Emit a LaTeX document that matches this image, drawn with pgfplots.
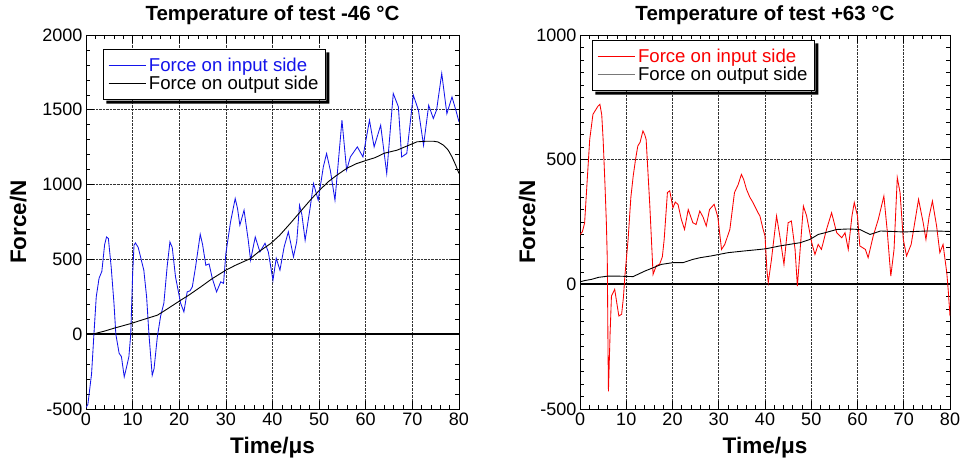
\documentclass[border=0pt]{standalone}
\usepackage{fontspec}
\setmainfont{Liberation Sans}
\newfontfamily\serifit{Liberation Serif}
\usepackage{pgfplots}
\pgfplotsset{compat=1.18}
\definecolor{inblue}{RGB}{20,20,235}
\definecolor{inred}{RGB}{250,0,0}
\definecolor{outgray}{RGB}{120,120,120}

\pgfplotsset{
  every axis title shift=0pt,
  myaxis/.style={
    scale only axis,
    height=374bp,
    xmin=0, xmax=80,
    xtick={0,10,...,80},
    minor x tick num=4,
    grid=major,
    major grid style={densely dotted, black!80, line width=0.7bp},
    tick align=inside,
    major tick length=8bp, minor tick length=4bp,
    tick style={black, line width=0.6bp},
    axis line style={line width=0.8bp},
    /pgf/number format/assume math mode=true,
    /pgf/number format/1000 sep={},
    ticklabel style={font=\fontsize{18bp}{20bp}\selectfont},
    xlabel={Time/μs}, ylabel={Force/N},
    label style={font=\bfseries\fontsize{22.5bp}{24bp}\selectfont},
    title style={font=\bfseries\fontsize{20.5bp}{22bp}\selectfont, at={(axis description cs:0.5,1.053)}, anchor=center},
    xlabel style={at={(axis description cs:0.5,-0.102)}, anchor=center},
    legend cell align=left,
    legend image code/.code={\draw[##1] (0bp,0bp) -- (37bp,0bp);},
    legend style={font=\fontsize{18.6bp}{20bp}\selectfont, draw=black, line width=0.8bp, fill=white,
      inner xsep=5bp, inner ysep=6.5bp, nodes={inner sep=1.9bp}, column sep=1bp, anchor=north west},
  }
}

\begin{document}
\begin{tikzpicture}
\useasboundingbox (0,0) rectangle (966bp,468bp);

% ---------------- (a) ----------------
\begin{axis}[myaxis, width=373bp, at={(86bp,59bp)}, anchor=south west,
  ymin=-500, ymax=2000, ytick={-500,0,...,2000}, minor y tick num=4,
  ylabel style={at={(axis description cs:-0.182,0.5)}, anchor=center},
  title={Temperature of test -46 °C},
  legend style={at={(0.045,0.963)}, name=legA}]
\addlegendimage{draw=inblue, line width=0.9bp}
\addlegendentry{\textcolor{inblue}{Force on input side}}
\addlegendimage{draw=black, line width=0.9bp}
\addlegendentry{Force on output side}
\addplot[forget plot, draw=black, line width=1.8bp] coordinates {(0,0) (80,0)};
\addplot[forget plot, draw=inblue, line width=0.85bp] coordinates {
(0,-490) (0.4,-470) (1.2,-263) (1.7,0) (2.2,250) (2.8,374) (3.4,420) (4.0,600) (4.4,650) (4.8,640) (5.4,450) (6.0,207) (6.4,0) (7.1,-127) (7.6,-150) (8.2,-285) (8.7,-220) (9.2,-150) (9.6,0) (10.0,400) (10.3,595) (10.6,610) (11.2,580) (12.4,428) (13.0,250) (13.5,0) (14.2,-275) (14.6,-230) (15.3,-18) (16.0,120) (16.7,207) (17.4,450) (18.0,617) (18.5,580) (19.2,383) (20.3,207) (21.0,149) (21.7,283) (22.3,290) (22.8,316) (23.5,450) (24.5,668) (25.0,600) (25.7,461) (26.4,470) (27.1,372) (28.0,283) (28.5,320) (28.9,350) (29.5,340) (30.0,540) (31.0,750) (32.0,907) (32.5,840) (33.0,729) (33.9,829) (34.8,628) (35.3,495) (36.3,650) (37.3,550) (38.4,608) (39.1,550) (40.1,361) (40.8,508) (41.6,428) (42.5,584) (43.4,684) (43.9,610) (44.5,517) (45.2,620) (45.8,862) (46.3,800) (47.0,628) (48.1,851) (48.8,1007) (49.8,896) (50.9,1118) (51.6,1208) (52.4,1096) (53.4,896) (54.9,1430) (55.9,1096) (56.7,1185) (58.2,1252) (59.4,1185) (60.8,1430) (61.8,1252) (63.2,1397) (64.5,1074) (65.9,1609) (67.0,1520) (67.7,1185) (68.8,1208) (70.2,1598) (71.3,1497) (72.4,1263) (73.5,1530) (74.5,1442) (75.2,1500) (76.3,1743) (77.4,1474) (78.5,1586) (79.3,1500) (80,1420)
};
\addplot[forget plot, draw=black, line width=0.9bp] coordinates {
(0,0) (1,0) (2,5) (3.9,20) (6,40) (9.6,71) (12,95) (15.3,127) (17,160) (20.3,227) (22,260) (24.6,316) (27,370) (30,428) (32,460) (35.3,506) (37,550) (39.6,606) (41.5,660) (43.8,740) (46,820) (48.1,896) (50,960) (52,1020) (53.8,1063) (56,1110) (58,1140) (60.2,1163) (62,1180) (64,1210) (66.7,1230) (69,1260) (71,1286) (73,1290) (74.5,1290) (75.5,1285) (76.7,1263) (77.7,1230) (78.5,1185) (79.3,1130) (80,1074)
};
\node[font=\serifit\itshape\fontsize{22bp}{24bp}\selectfont] at (axis description cs:0.968,-0.102) {(a)};
\end{axis}
\fill[black] ([shift={(0.4bp,-3.5bp)}]legA.north east) -- ([shift={(3.5bp,-3.5bp)}]legA.north east)
  -- ([shift={(3.5bp,-3.5bp)}]legA.south east) -- ([shift={(3.5bp,-3.5bp)}]legA.south west)
  -- ([shift={(3.5bp,-0.4bp)}]legA.south west) -- ([shift={(0.4bp,-0.4bp)}]legA.south east) -- cycle;

% ---------------- (b) ----------------
\begin{axis}[myaxis, width=370bp, at={(580bp,59bp)}, anchor=south west,
  ymin=-500, ymax=1000, ytick={-500,0,500,1000}, minor y tick num=9,
  ylabel style={at={(axis description cs:-0.143,0.5)}, anchor=center},
  title={Temperature of test +63 °C},
  legend style={at={(0.032,0.987)}, name=legB}]
\addlegendimage{draw=inred, line width=0.9bp}
\addlegendentry{\textcolor{inred}{Force on input side}}
\addlegendimage{draw=outgray, line width=0.9bp}
\addlegendentry{Force on output side}
\addplot[forget plot, draw=black, line width=1.8bp] coordinates {(0,0) (80,0)};
\addplot[forget plot, draw=inred, line width=0.85bp] coordinates {
(0,200) (0.5,210) (1,247) (1.5,400) (2.1,581) (2.8,682) (3.4,700) (3.9,715) (4.3,722) (4.7,680) (5,581) (5.4,400) (5.7,247) (5.9,100) (6.05,-250) (6.15,-429) (6.5,-200) (6.8,-47) (7.5,-20) (8.0,-80) (8.4,-127) (9.0,-120) (9.4,-50) (9.7,33) (10.4,180) (11.0,350) (11.5,434) (12.0,500) (12.5,555) (13.0,570) (13.6,615) (14.0,600) (14.3,581) (15.1,314) (15.8,40) (16.5,75) (17.2,80) (17.8,110) (18.2,180) (18.9,368) (19.4,375) (20.1,307) (20.6,330) (21.2,320) (21.9,261) (22.6,220) (23.4,300) (24.4,247) (25.1,240) (25.9,294) (26.6,270) (27.3,234) (28.0,300) (29.0,321) (29.8,270) (30.6,140) (31.3,160) (32.4,220) (33.4,368) (34.2,400) (34.9,441) (35.4,420) (36.0,381) (36.7,350) (37.4,328) (38.5,287) (38.9,274) (39.6,220) (40.0,194) (40.4,60) (40.7,7) (41.4,100) (42.5,274) (43.2,194) (44.1,80) (45.0,247) (45.7,254) (46.5,140) (47.0,-7) (47.6,140) (48.3,314) (49.0,274) (50.1,167) (50.8,120) (51.5,160) (52.2,140) (53.3,220) (54.4,287) (55.5,207) (56.6,187) (57.3,207) (58.0,140) (58.8,274) (59.3,328) (60.0,274) (60.5,154) (61.7,140) (62.3,107) (63.4,194) (64.5,261) (65.7,354) (66.4,220) (67.2,33) (67.9,140) (68.6,428) (69.2,368) (69.9,180) (70.6,114) (71.6,160) (73.2,341) (74.2,247) (74.8,180) (75.5,274) (76.2,334) (77.1,234) (77.8,127) (78.5,160) (79.3,47) (79.6,-20) (80,-127)
};
\addplot[forget plot, draw=black, line width=0.9bp] coordinates {
(0,10) (1,15) (2.5,20) (4,28) (6.1,33) (8,33) (11.5,31) (12.5,40) (14,53) (17.6,80) (20.1,87) (22.3,87) (24.4,100) (26,107) (28.4,114) (32,127) (35.6,134) (38.9,140) (40.3,143) (43.2,154) (47.6,167) (49.7,180) (51.5,200) (53,207) (55.5,220) (58,222) (60.5,220) (62.7,200) (65,214) (70,210) (75,214) (77,214) (80,212)
};
\node[font=\serifit\itshape\fontsize{22bp}{24bp}\selectfont] at (axis description cs:0.981,-0.102) {(b)};
\end{axis}
\fill[black] ([shift={(0.4bp,-3.5bp)}]legB.north east) -- ([shift={(3.5bp,-3.5bp)}]legB.north east)
  -- ([shift={(3.5bp,-3.5bp)}]legB.south east) -- ([shift={(3.5bp,-3.5bp)}]legB.south west)
  -- ([shift={(3.5bp,-0.4bp)}]legB.south west) -- ([shift={(0.4bp,-0.4bp)}]legB.south east) -- cycle;
\end{tikzpicture}
\end{document}
